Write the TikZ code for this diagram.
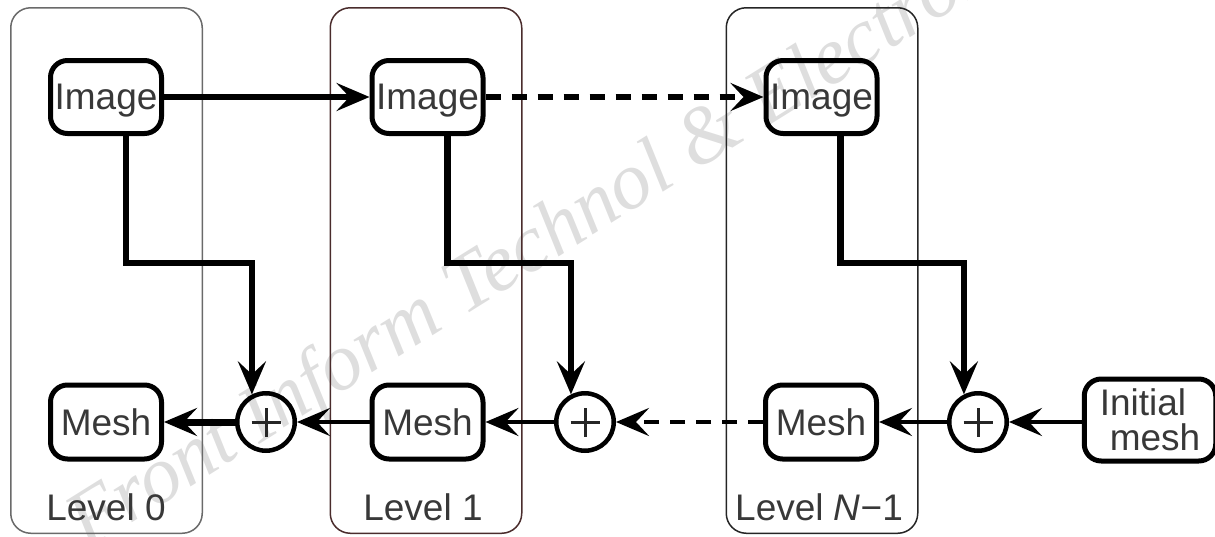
\documentclass[tikz,border=0pt]{standalone}
\usepackage{fontspec}
\setmainfont{Liberation Sans}
\newfontfamily\wmfont{Liberation Serif}
\usetikzlibrary{arrows.meta}
\definecolor{txt}{HTML}{383838}
\definecolor{lvlA}{HTML}{6A6A6A}
\definecolor{lvlB}{HTML}{4A2C2C}
\definecolor{lvlC}{HTML}{252525}
\definecolor{wm}{HTML}{DEDEDE}
\begin{document}
\begin{tikzpicture}[x=1pt,y=-1pt,
  line join=miter,
  >={Stealth[length=33pt,width=28pt,inset=13pt]},
  lbl/.style={font=\fontsize{37}{35}\selectfont, text=txt, inner sep=0pt},
  blk/.style={lbl, draw=black, line width=5pt, rounded corners=17pt,
    minimum width=111pt, minimum height=73pt},
  imgbox/.style={blk, text depth=0pt},
  meshbox/.style={blk, minimum height=74pt},
  sumnode/.style={circle, draw=black, line width=4.5pt, minimum size=57.5pt,
    inner sep=0pt,
    path picture={\draw[line width=3pt, draw=black!85]
      (path picture bounding box.center) +(-14.5pt,0) -- +(14.5pt,0)
      +(0,-14.5pt) -- +(0,14.5pt);}},
  level/.style={draw, line width=1.5pt, rounded corners=20pt,
    minimum width=191.5pt, minimum height=525.5pt, inner sep=0pt},
  conn/.style={line width=4.5pt, draw=black},
  topconn/.style={line width=5.5pt, draw=black},
  feed/.style={line width=6.5pt, draw=black},
  dashline/.style={dash pattern=on 15pt off 11pt}
]
\useasboundingbox (0,0) rectangle (1215,536);

% journal watermark
\node[rotate=32, anchor=base, inner sep=0pt,
  font=\wmfont\itshape\fontsize{81}{81}\selectfont, text=wm]
  (wmark) at (544,266) {Front Inform Technol \& Electron};

% level containers
\node[level, draw=lvlA] (L0) at (106.5,270.5) {};
\node[level, draw=lvlB] (L1) at (426,270.5) {};
\node[level, draw=lvlC] (LN) at (822,270.5) {};
\node[lbl, anchor=base] (t0) at (106,520) {Level 0};
\node[lbl, anchor=base] (t1) at (423,520) {Level 1};
\node[lbl, anchor=base] (tN) at (819,520) {Level \textit{N}−1};

% image nodes
\node[imgbox] (i0) at (106,97) {Image};
\node[imgbox] (i1) at (427.5,97) {Image};
\node[imgbox] (iN) at (821.5,97) {Image};

% mesh nodes
\node[meshbox] (m0) at (106,422) {Mesh};
\node[meshbox] (m1) at (427.5,422) {Mesh};
\node[meshbox] (mN) at (821,422) {Mesh};

% summation nodes
\node[sumnode] (p0) at (266,422) {};
\node[sumnode] (p1) at (585,422) {};
\node[sumnode] (pN) at (978,422) {};

% initial mesh
\node[blk, align=left, inner xsep=15.5pt, minimum width=131pt,
  minimum height=82pt] (ini) at (1150,420)
  {Initial\\\hspace*{10pt}mesh};

% image pyramid
\draw[topconn,->] (i0) -- (i1);
\draw[topconn,dashline,->] (i1) -- (iN);

% image features into the sums
\draw[feed,->] ([xshift=20pt]i0.south) -- ++(0,127) -| (p0.117);
\draw[feed,->] ([xshift=20pt]i1.south) -- ++(0,127) -| (p1.117);
\draw[feed,->] ([xshift=19pt]iN.south) -- ++(0,127) -| (pN.117);

% mesh refinement chain
\draw[conn,->] (ini.west |- pN.east) -- (pN);
\draw[conn,->] (pN) -- (mN);
\draw[conn,dashline,->] (mN) -- (p1);
\draw[conn,->] (p1) -- (m1);
\draw[conn,->] (m1) -- (p0);
\draw[conn,line width=7pt,->] (p0) -- (m0);
\end{tikzpicture}
\end{document}
